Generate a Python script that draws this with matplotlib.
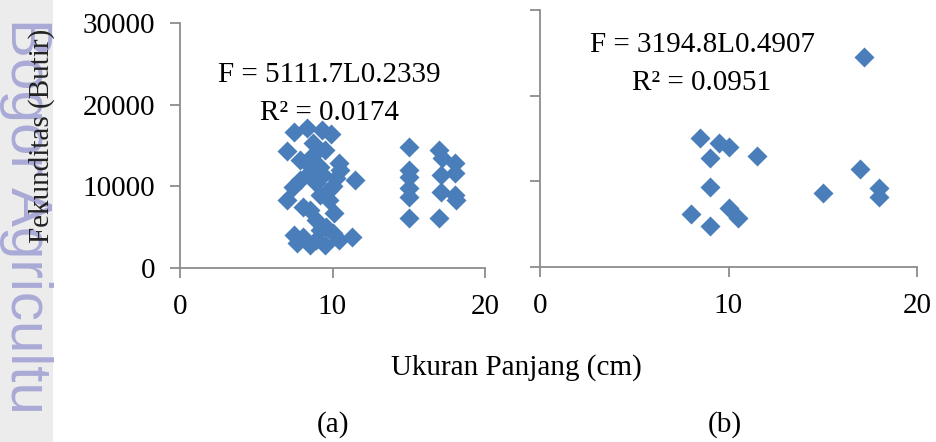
import matplotlib.pyplot as plt
from matplotlib.patches import Rectangle

plt.rcParams['font.family'] = 'Liberation Serif'

# (a) panjang (cm) vs fekunditas (butir)
panjang_a = [7.5, 8.3, 9.3, 7.0, 8.7, 8.3, 9.15, 10.45, 11.45, 7.85,
             7.4, 8.95, 9.8, 7.0, 8.05, 9.8, 8.95, 9.6, 8.05, 8.95,
             10.0, 7.65, 8.5, 11.3, 8.7, 9.5, 7.85, 8.5, 9.35, 10.25,
             9.15, 8.5, 10.1, 9.15, 10.45, 9.5, 7.5, 9.9, 10.0, 10.5,
             15.0, 15.0, 15.0, 15.0, 15.0, 15.0,
             17.0, 17.2, 18.0, 18.0, 17.1, 17.1, 18.0, 18.1, 17.0]
fekunditas_a = [16650, 17150, 16900, 14300, 15300, 12850, 12350, 12850, 10770, 10770,
                9900, 10400, 9550, 8320, 7470, 8320, 5880, 5020, 3790, 3430,
                4280, 3060, 2820, 3790, 13830, 14440, 13220, 11750, 11380, 11020,
                8940, 7100, 6730, 4650, 3430, 2820, 4040, 16400, 10000, 12000,
                14810, 12000, 11140, 9790, 8690, 6120,
                14440, 13460, 12850, 11630, 11380, 9300, 8940, 8320, 6120]

# (b)
panjang_b = [17.2, 8.5, 9.5, 10.05, 9.03, 11.52, 16.98, 9.03, 14.99, 18.0,
             18.0, 8.03, 9.03, 10.05, 10.5]
fekunditas_b = [24470, 15090, 14510, 13970, 12690, 12990, 11400, 9370, 8670, 9250,
                8200, 6190, 4790, 6850, 5680]

x_ticks = [0, 10, 20]
y_ticks = [0, 10000, 20000, 30000]

persamaan_a = ['F = 5111.7L0.2339', 'R² = 0.0174']
persamaan_b = ['F = 3194.8L0.4907', 'R² = 0.0951']

W, H = 936, 442
fig = plt.figure(figsize=(W / 100, H / 100), dpi=100)

# watermark strip on the left edge
fig.patches.append(Rectangle((0, 0), 53 / W, 1, transform=fig.transFigure,
                             facecolor='#ececec', edgecolor='none', zorder=0))
fig.text(26 / W, 1 - 18 / H, 'Bogor Agricultu', rotation=-90,
         ha='center', va='top', fontsize=42, color='#aaaad6',
         family='Liberation Sans', zorder=1)

blue = '#4a7ebb'
axis_grey = '#8c8c8c'


def style(ax, labels_y=True):
    for s in ['top', 'right']:
        ax.spines[s].set_visible(False)
    for s in ['left', 'bottom']:
        ax.spines[s].set_color(axis_grey)
        ax.spines[s].set_linewidth(1.3)
    ax.set_xlim(0, 20)
    ax.set_ylim(0, 30000)
    ax.set_xticks(x_ticks)
    ax.set_yticks(y_ticks)
    ax.tick_params(axis='both', direction='out', length=7, width=1.3,
                   color=axis_grey, labelsize=21)
    ax.tick_params(axis='x', pad=12)
    ax.tick_params(axis='y', pad=11)
    if not labels_y:
        ax.set_yticklabels([])
    ax.patch.set_alpha(0)


ax1 = fig.add_axes([180 / W, 1 - 268 / H, 305 / W, 245 / H])
ax1.scatter(panjang_a, fekunditas_a, marker='D', s=104, color=blue,
            linewidths=0, clip_on=False, zorder=3)
style(ax1)

ax2 = fig.add_axes([540 / W, 1 - 267 / H, 377 / W, 257 / H])
ax2.scatter(panjang_b, fekunditas_b, marker='D', s=104, color=blue,
            linewidths=0, clip_on=False, zorder=3)
style(ax2, labels_y=False)

# trendline equations
fig.text(329 / W, 1 - 75 / H, persamaan_a[0], ha='center', va='center', fontsize=21)
fig.text(329 / W, 1 - 113 / H, persamaan_a[1], ha='center', va='center', fontsize=21)
fig.text(703 / W, 1 - 45 / H, persamaan_b[0], ha='center', va='center', fontsize=21)
fig.text(702 / W, 1 - 83 / H, persamaan_b[1], ha='center', va='center', fontsize=21)

fig.text(42 / W, 1 - 136 / H, 'Fekunditas (Butir)', rotation=90, ha='center',
         va='center', fontsize=21, color='#222222', zorder=5)
fig.text(516 / W, 1 - 368 / H, 'Ukuran Panjang (cm)', ha='center', va='center',
         fontsize=21)
fig.text(333 / W, 1 - 425 / H, '(a)', ha='center', va='center', fontsize=21)
fig.text(725 / W, 1 - 425 / H, '(b)', ha='center', va='center', fontsize=21)

fig.savefig('out.png', dpi=100)
